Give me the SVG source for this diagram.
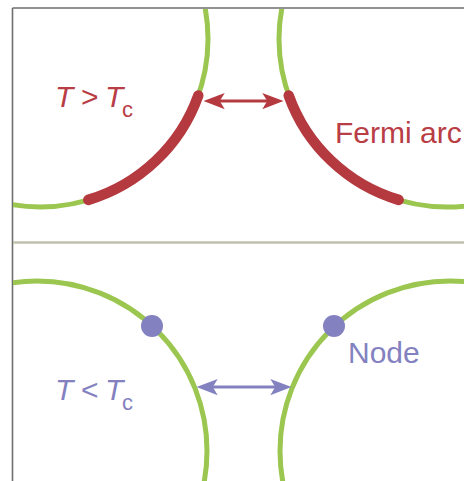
<svg xmlns="http://www.w3.org/2000/svg" width="464" height="481" viewBox="0 0 464 481">
<style>
.fs{fill:none;stroke:#9bc650;stroke-width:5}
.arc{fill:none;stroke:#b43a40;stroke-width:10.5;stroke-linecap:round}
.txt{font-family:"Liberation Sans",Arial,sans-serif;font-size:30px}
.red{fill:#b93d45}
.pur{fill:#8381c0}
.it{font-style:italic}
</style>
<defs>
<clipPath id="cTop"><rect x="13" y="9" width="451" height="233"/></clipPath>
<clipPath id="cBot"><rect x="13" y="244" width="451" height="237"/></clipPath>
<marker id="mRed" markerUnits="userSpaceOnUse" markerWidth="30" markerHeight="20" viewBox="-14 -8 22 16" refX="0" refY="0" orient="auto-start-reverse">
<path d="M6,0 L-11,-6.5 L-7,0 L-11,6.5 Z" fill="#b43a40"/>
</marker>
<marker id="mPur" markerUnits="userSpaceOnUse" markerWidth="30" markerHeight="20" viewBox="-14 -8 22 16" refX="0" refY="0" orient="auto-start-reverse">
<path d="M6,0 L-11,-6.5 L-7,0 L-11,6.5 Z" fill="#8381c0"/>
</marker>
</defs>
<rect x="0" y="0" width="464" height="481" fill="#ffffff"/>
<g id="frame">
<line x1="12.5" y1="8" x2="464" y2="8" stroke="#6e6e6e" stroke-width="1.6"/>
<line x1="12.5" y1="8" x2="12.5" y2="481" stroke="#6e6e6e" stroke-width="1.6"/>
<line x1="13" y1="242.5" x2="464" y2="242.5" stroke="#c0c1ad" stroke-width="2.6"/>
</g>
<g id="top-panel" clip-path="url(#cTop)">
<g id="top-left-surface">
<circle class="fs" cx="40" cy="39" r="168"/>
<path class="arc" d="M198.3,95.4 A168,168 0 0 1 88.3,199.9"/>
</g>
<g id="top-right-surface">
<circle class="fs" cx="447" cy="39" r="168"/>
<path class="arc" d="M288.7,95.4 A168,168 0 0 0 398.7,199.9"/>
</g>
</g>
<g id="bottom-panel" clip-path="url(#cBot)">
<g id="bottom-left-surface">
<circle class="fs" cx="37" cy="451" r="170"/>
<circle id="node-left" cx="152" cy="326" r="11" fill="#8381c0"/>
</g>
<g id="bottom-right-surface">
<circle class="fs" cx="450" cy="451" r="170"/>
<circle id="node-right" cx="334" cy="326" r="11" fill="#8381c0"/>
</g>
</g>
<g id="connectors">
<path d="M211,101 H276" stroke="#b43a40" stroke-width="3" fill="none" marker-start="url(#mRed)" marker-end="url(#mRed)"/>
<path d="M204,387 H284" stroke="#8381c0" stroke-width="3" fill="none" marker-start="url(#mPur)" marker-end="url(#mPur)"/>
</g>
<g id="label-above">
<text class="txt red" y="107"><tspan class="it" x="55">T</tspan><tspan x="81">&gt;</tspan><tspan class="it" x="105">T</tspan><tspan x="122" y="117" font-size="22">c</tspan></text>
</g>
<g id="label-fermi">
<text class="txt red" x="335" y="143">Fermi arc</text>
</g>
<g id="label-below">
<text class="txt pur" y="400"><tspan class="it" x="55">T</tspan><tspan x="81">&lt;</tspan><tspan class="it" x="105">T</tspan><tspan x="122" y="410" font-size="22">c</tspan></text>
</g>
<g id="label-node">
<text class="txt pur" x="348" y="363">Node</text>
</g>
</svg>
